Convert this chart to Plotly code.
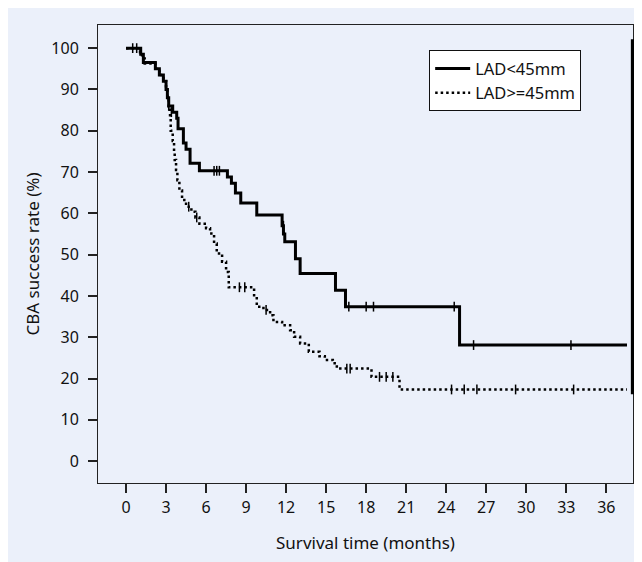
import plotly.graph_objects as go

# ---- data ----
x_ticks = [0, 3, 6, 9, 12, 15, 18, 21, 24, 27, 30, 33, 36]
y_ticks = [0, 10, 20, 30, 40, 50, 60, 70, 80, 90, 100]

lad_lt45_t = [0, 1.1, 1.3, 2.2, 2.5, 2.8, 3.0, 3.1, 3.2, 3.5, 3.8, 3.9, 4.3, 4.5, 4.8,
              5.5, 7.6, 7.9, 8.2, 8.6, 9.8, 11.7, 11.8, 11.9, 12.7, 13.05, 15.7,
              16.45, 25.0, 37.55]
lad_lt45_v = [100, 98.5, 96.5, 95, 93.5, 92, 90, 88, 86, 84.5, 83, 80.5, 77, 75.5, 72.1,
              70.3, 68.8, 67.3, 64.9, 62.5, 59.6, 57, 55, 53.1, 49, 45.4, 41.4,
              37.4, 28.1, 28.1]
lad_lt45_cens_t = [0.5, 0.8, 3.2, 3.4, 6.6, 6.8, 7.0, 11.8, 16.7, 18.0, 18.55, 24.6, 26.05, 33.35]
lad_lt45_cens_v = [100, 100, 86, 84.5, 70.3, 70.3, 70.3, 57, 37.4, 37.4, 37.4, 37.4, 28.1, 28.1]

lad_ge45_t = [0, 1.05, 1.2, 1.4, 2.2, 2.5, 2.8, 3.0, 3.1, 3.2, 3.3, 3.35, 3.5, 3.6,
              3.65, 3.75, 3.85, 4.0, 4.2, 4.5, 4.9, 5.2, 5.5, 6.0, 6.3, 6.6, 6.8,
              7.2, 7.5, 7.7, 9.6, 9.8, 10.3, 10.8, 11.05, 11.7, 12.3, 12.6, 13.05,
              13.7, 14.5, 14.9, 15.5, 15.8, 18.4, 20.5, 37.55]
lad_ge45_v = [100, 99, 97.5, 96.3, 95, 93.5, 92, 90, 88, 86, 83, 80, 77.5, 75,
              72.9, 70.5, 68, 65.5, 63.2, 61.6, 60.4, 59, 57.5, 56.4, 55.1, 52.7, 50.3,
              48.3, 45.8, 42.1, 39.8, 37.4, 36.6, 35.3, 33.7, 32.9, 31.7, 30.1, 28.5,
              26.5, 25.4, 24.5, 23.7, 22.4, 20.4, 17.35, 17.35]
lad_ge45_cens_t = [4.7, 5.3, 8.5, 8.9, 10.5, 16.55, 16.8, 19.0, 19.5, 20.0, 24.4, 25.35, 26.3, 29.2, 33.55]
lad_ge45_cens_v = [61.6, 59, 42.1, 42.1, 36.6, 22.4, 22.4, 20.4, 20.4, 20.4, 17.35, 17.35, 17.35, 17.35, 17.35]

BG = "#EBF0FA"
FONT = "Noto Sans"

fig = go.Figure()
fig.add_trace(go.Scatter(x=lad_lt45_t, y=lad_lt45_v, mode="lines", line_shape="hv",
                         name="LAD<45mm", line=dict(color="black", width=3)))
fig.add_trace(go.Scatter(x=lad_ge45_t, y=lad_ge45_v, mode="lines", line_shape="hv",
                         name="LAD>=45mm", line=dict(color="black", width=2.5, dash="2.5px,3px")))
fig.add_trace(go.Scatter(x=lad_lt45_cens_t, y=lad_lt45_cens_v, mode="markers", showlegend=False,
                         marker=dict(symbol="line-ns-open", size=7, color="black",
                                     line=dict(color="black", width=1.5))))
fig.add_trace(go.Scatter(x=lad_ge45_cens_t, y=lad_ge45_cens_v, mode="markers", showlegend=False,
                         marker=dict(symbol="line-ns-open", size=7, color="black",
                                     line=dict(color="black", width=1.5))))

axis_common = dict(showline=True, linecolor="#222", linewidth=1, mirror=True,
                   ticks="outside", ticklen=9, tickwidth=2, tickcolor="#222",
                   showgrid=False, zeroline=False,
                   tickfont=dict(family=FONT, size=16, color="#111"))

fig.update_xaxes(range=[-2.1, 38.0], tickvals=x_ticks, ticktext=[str(v) for v in x_ticks],
                 title=dict(text="Survival time (months)", font=dict(family=FONT, size=17, color="#111"), standoff=19),
                 ticklabelstandoff=1, **axis_common)
fig.update_yaxes(range=[-5.3, 105.6], tickvals=y_ticks, ticktext=[str(v) for v in y_ticks],
                 title=dict(text="CBA success rate (%)", font=dict(family=FONT, size=17, color="#111"), standoff=7),
                 ticklabelstandoff=6, **axis_common)

fig.update_layout(
    width=642, height=562,
    margin=dict(l=90, r=17, t=17, b=87),
    paper_bgcolor=BG, plot_bgcolor=BG,
    font=dict(family=FONT, color="#111"),
    legend=dict(x=0.619, y=0.945, xanchor="left", yanchor="top",
                bgcolor="white", bordercolor="#111", borderwidth=1,
                font=dict(family=FONT, size=16.5, color="#111"),
                tracegroupgap=0, itemwidth=35),
)
fig.add_shape(type="rect", xref="paper", yref="paper", x0=0.996, x1=1.006, y0=0.194, y1=0.969,
              fillcolor="black", line=dict(width=0), layer="above")

fig.write_html("out.html")
